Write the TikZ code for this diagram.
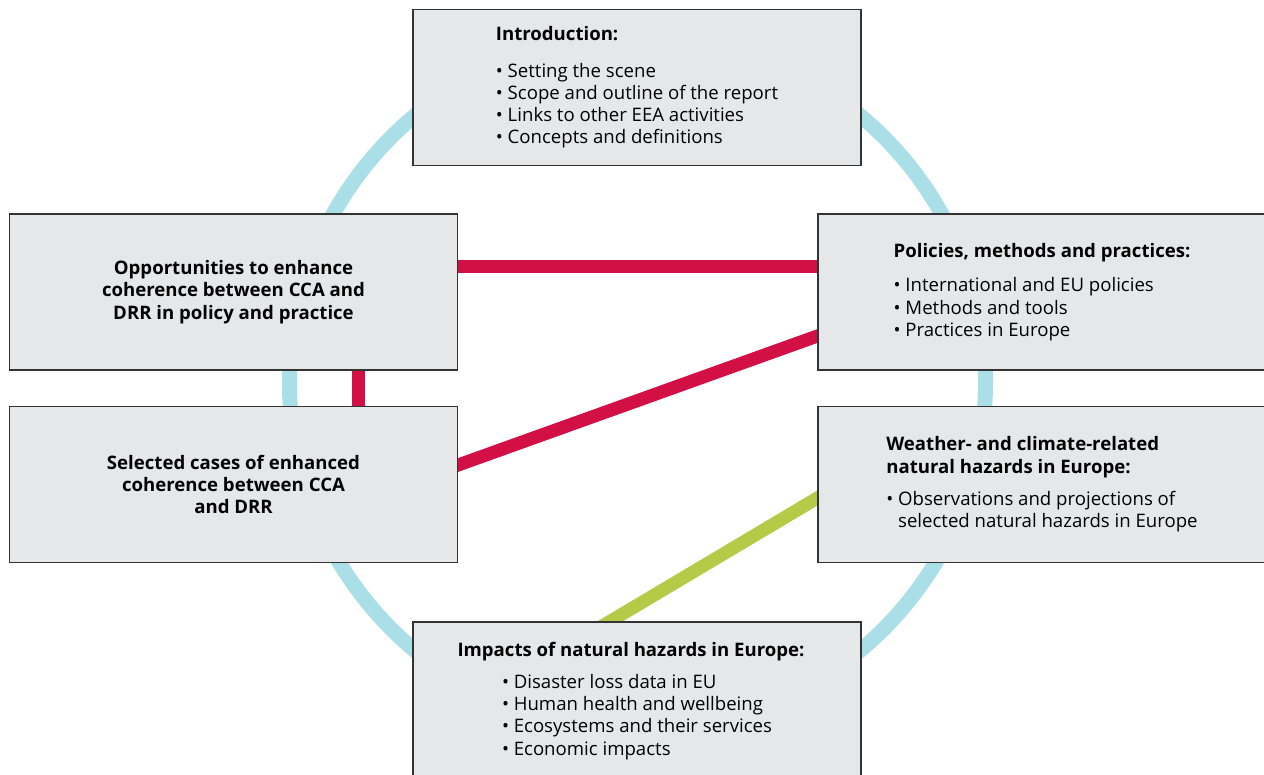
\documentclass[tikz,border=0pt]{standalone}
\usepackage{fontspec}
\setmainfont{Open Sans}
\usetikzlibrary{backgrounds}
\begin{document}
\begin{tikzpicture}[x=1pt,y=-1pt,
  box/.style={draw=box edge, fill=box area, line width=1.2pt, inner sep=0pt,
    minimum width=448pt, minimum height=156pt, font=\fontsize{18.6}{22.3}\selectfont},
  link/.style={line width=13pt, shorten <=-12pt, shorten >=-12pt},
  redlink/.style={link, draw=link red},
  greenlink/.style={link, draw=link green}]
\definecolor{box edge}{gray}{0.2}
\definecolor{box area}{RGB}{230,231,232}
\definecolor{ring blue}{RGB}{170,223,232}
\definecolor{link red}{RGB}{210,16,70}
\definecolor{link green}{RGB}{181,203,71}
\def\ring{(637.5,383) circle (348pt)}

\clip (0,0) rectangle (1264,774);
\draw[ring blue, line width=15pt] \ring;

\node[box, align=left] (intro) at (637,87.5) {\textbf{Introduction:}\\[14pt]
  \textbullet\ Setting the scene\\
  \textbullet\ Scope and outline of the report\\
  \textbullet\ Links to other EEA activities\\
  \textbullet\ Concepts and definitions};
\node[box, align=center] (opp) at (233.5,292) {\textbf{Opportunities to enhance}\\
  \textbf{coherence between CCA and}\\ \textbf{DRR in policy and practice}};
\node[box, align=left, text depth=4pt] (pol) at (1042,292) {\textbf{Policies, methods and practices:}\\[12pt]
  \textbullet\ International and EU policies\\
  \textbullet\ Methods and tools\\
  \textbullet\ Practices in Europe};
\node[box, align=center] (sel) at (233.5,484.5) {\textbf{Selected cases of enhanced}\\
  \textbf{coherence between CCA}\\ \textbf{and DRR}};
\node[box, align=left] (wea) at (1042,484.5) {\textbf{Weather- and climate-related}\\
  \textbf{natural hazards in Europe:}\\[10pt]
  \textbullet\ Observations and projections of\\
  \phantom{\textbullet}\ selected natural hazards in Europe};
\node[box, align=center, minimum height=160pt] (imp) at (637,702) {\hspace*{-12pt}\textbf{Impacts of natural hazards in Europe:}\\[11pt]
  \begin{tabular}{@{}l@{}}
  \textbullet\ Disaster loss data in EU\\
  \textbullet\ Human health and wellbeing\\
  \textbullet\ Ecosystems and their services\\
  \textbullet\ Economic impacts
  \end{tabular}};

% links between chapters, tucked under the boxes
\begin{scope}[on background layer]
\draw[redlink] ([yshift=26pt]opp.east) -- ([yshift=26pt]pol.west);
\draw[redlink] ([yshift=19.5pt]sel.east) -- ([yshift=-44pt]pol.west);
\draw[redlink] ([xshift=124.5pt]opp.south) -- ([xshift=124.5pt]sel.north);
\draw[greenlink] ([yshift=-13.5pt]wea.west) -- ([xshift=-27pt]imp.north);
\end{scope}
\end{tikzpicture}
\end{document}
